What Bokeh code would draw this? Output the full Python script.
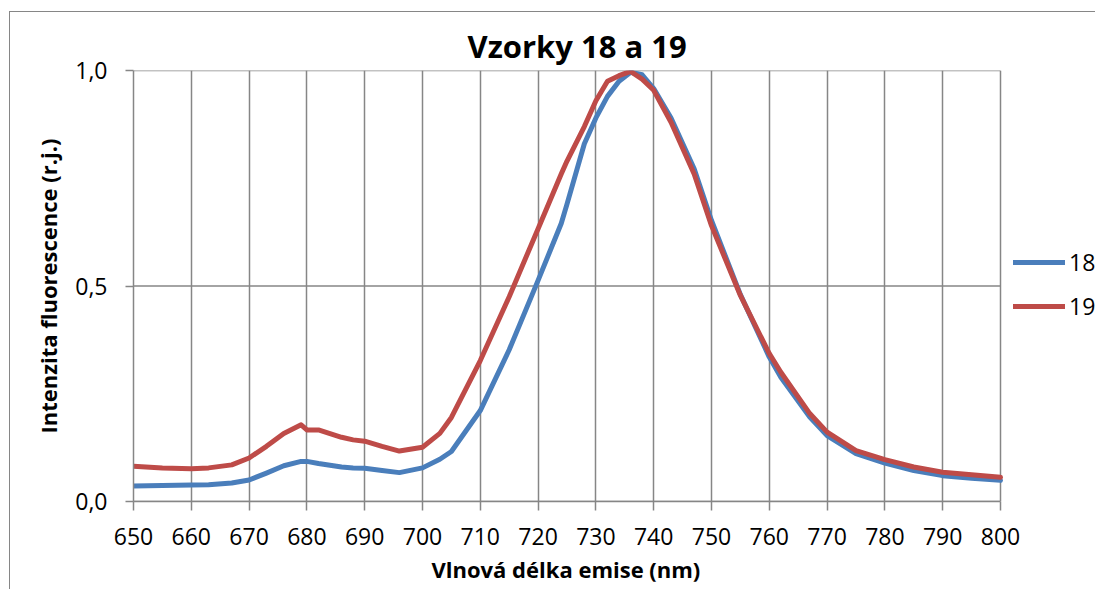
from bokeh.plotting import figure
from bokeh.models import Range1d, FixedTicker, Legend, LegendItem, Title
from bokeh.embed import file_html
from bokeh.resources import INLINE

# ---- data ----
wavelength = [650, 655, 660, 663, 667, 670, 673, 676, 679, 680, 682, 686, 688, 690,
              693, 696, 700, 703, 705, 710, 715, 720, 724, 725, 728, 730, 732, 734,
              736, 738, 740, 743, 747, 750, 755, 760, 762, 767, 770, 775, 780, 785,
              790, 795, 800]
sample_18 = [0.036, 0.037, 0.038, 0.039, 0.043, 0.050, 0.066, 0.083, 0.093, 0.093,
             0.088, 0.080, 0.078, 0.077, 0.072, 0.067, 0.078, 0.098, 0.116, 0.211,
             0.352, 0.513, 0.645, 0.690, 0.830, 0.890, 0.940, 0.975, 0.996, 0.990,
             0.958, 0.890, 0.772, 0.652, 0.480, 0.335, 0.288, 0.196, 0.153, 0.111,
             0.089, 0.072, 0.060, 0.054, 0.049]
sample_19 = [0.082, 0.078, 0.076, 0.078, 0.085, 0.101, 0.128, 0.158, 0.178, 0.166,
             0.166, 0.149, 0.143, 0.140, 0.128, 0.117, 0.126, 0.158, 0.195, 0.327,
             0.475, 0.633, 0.760, 0.790, 0.870, 0.930, 0.975, 0.988, 0.998, 0.980,
             0.954, 0.880, 0.760, 0.640, 0.478, 0.343, 0.300, 0.204, 0.161, 0.118,
             0.097, 0.080, 0.068, 0.062, 0.056]
series_names = ["18", "19"]
series_colors = ["#4a7ebb", "#be4b48"]
x_ticks = list(range(650, 801, 10))
y_ticks = [0.0, 0.5, 1.0]
y_tick_labels = ["0,0", "0,5", "1,0"]
title_text = "Vzorky 18 a 19"
x_label = "Vlnová délka emise (nm)"
y_label = "Intenzita fluorescence (r.j.)"

FONT = "Open Sans"
GRID = "#868686"

X0, X1 = x_ticks[0], x_ticks[-1]
# plot area runs 650..800 over 867 px; the frame continues to the window edge
# so that the (cut-off) legend can be drawn on the right
x_end = X0 + (X1 - X0) * (1096 - 133) / 867

p = figure(width=1086, height=578, output_backend="svg", toolbar_location=None,
           x_range=Range1d(X0, x_end), y_range=Range1d(0, 1),
           min_border_left=123, min_border_right=0, min_border_top=58,
           min_border_bottom=89)
p.styles = {"margin-left": "9px", "margin-top": "11px",
            "border-left": "1px solid #868686", "border-top": "1px solid #868686"}
p.outline_line_color = None
p.background_fill_color = "white"
p.border_fill_color = "white"

p.title.text = title_text
p.title.align = "left"
p.title.offset = 334
p.title.text_font = FONT
p.title.text_font_size = "31px"
p.title.text_font_style = "bold"
p.title.text_color = "black"
p.title.standoff = 8

# grids
p.xgrid.ticker = FixedTicker(ticks=x_ticks)
p.xgrid.grid_line_color = GRID
p.xgrid.grid_line_width = 1.5
p.ygrid.grid_line_color = None
p.segment(x0=[X0] * len(y_ticks), x1=[X1] * len(y_ticks), y0=y_ticks, y1=y_ticks,
          line_color=GRID, line_width=1.5)

# axes
p.xaxis.ticker = FixedTicker(ticks=x_ticks)
p.xaxis.bounds = (X0, X1)
p.yaxis.ticker = FixedTicker(ticks=y_ticks)
p.yaxis.major_label_overrides = {t: l for t, l in zip(y_ticks, y_tick_labels)}
for ax in (p.xaxis[0], p.yaxis[0]):
    ax.axis_line_color = GRID
    ax.axis_line_width = 1.5
    ax.major_tick_line_color = GRID
    ax.major_tick_line_width = 1.5
    ax.major_tick_in = 0
    ax.minor_tick_line_color = None
    ax.major_label_text_font = FONT
    ax.major_label_text_font_size = "23px"
    ax.major_label_text_color = "black"
    ax.axis_label_text_font = FONT
    ax.axis_label_text_font_size = "22px"
    ax.axis_label_text_font_style = "bold"
    ax.axis_label_text_color = "black"
p.xaxis.major_tick_out = 9
p.yaxis.major_tick_out = 8
p.xaxis.major_label_standoff = 17
p.yaxis.major_label_standoff = 18
p.yaxis.axis_label = y_label
p.yaxis.axis_label_standoff = 9

# x-axis title centred under the 650..800 plot area
p.add_layout(Title(text=x_label, align="left", offset=298, standoff=9,
                   text_font=FONT, text_font_size="22px", text_font_style="bold",
                   text_color="black"), "below")

renderers = []
for ys, c in zip([sample_18, sample_19], series_colors):
    r = p.line(wavelength, ys, line_color=c, line_width=5, line_join="round",
               line_cap="round")
    renderers.append(r)

legend = Legend(items=[LegendItem(label=n, renderers=[r])
                       for n, r in zip(series_names, renderers)],
                location=(880, 179), padding=0, margin=0, spacing=12,
                glyph_width=52, glyph_height=32, label_height=32,
                label_standoff=4, border_line_color=None,
                background_fill_alpha=0, label_text_font=FONT,
                label_text_font_size="23px", label_text_color="black")
p.add_layout(legend)

open("out.html", "w").write(file_html(p, INLINE))
